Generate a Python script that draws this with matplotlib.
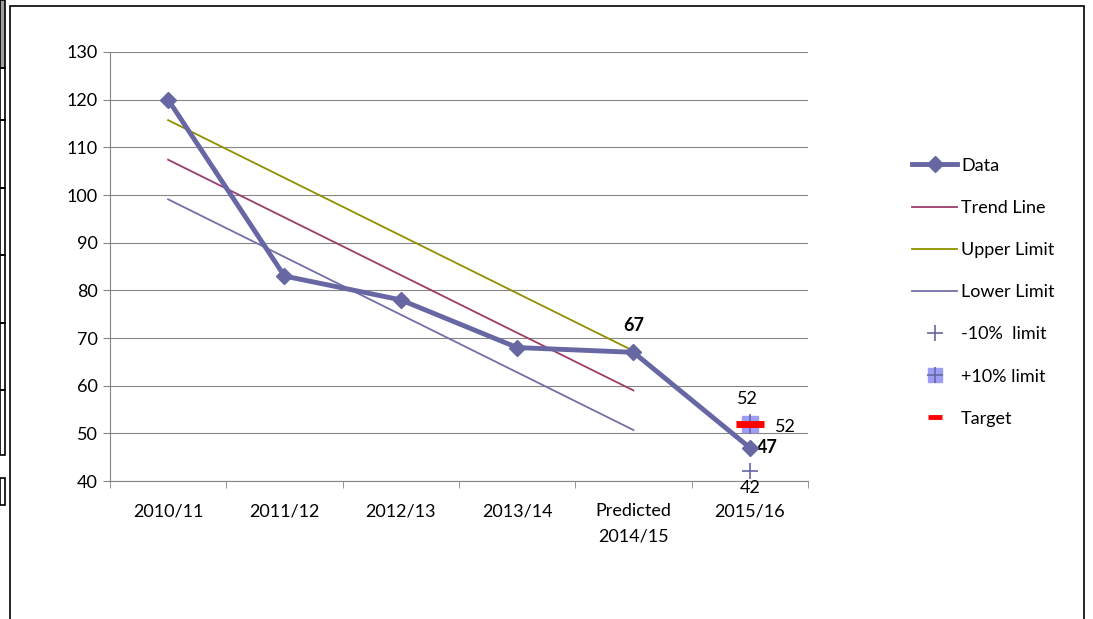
import matplotlib.pyplot as plt
from matplotlib.patches import Rectangle
from matplotlib.lines import Line2D

plt.rcParams['font.family'] = ['Lato', 'DejaVu Sans']

categories = ['2010/11', '2011/12', '2012/13', '2013/14', 'Predicted\n2014/15', '2015/16']
data = [120, 83, 78, 68, 67, 47]
trend = [107.4, 95.3, 83.2, 71.1, 59.0]
upper = [115.7, 103.6, 91.5, 79.4, 67.3]
lower = [99.1, 87.0, 74.9, 62.8, 50.7]
minus10 = 42
plus10 = 52
target = 52

c_data = '#6667a3'
c_trend = '#9c3c6a'
c_upper = '#8f9000'
c_lower = '#7270a6'

fig = plt.figure(figsize=(10.93, 6.19), dpi=100)
ax = fig.add_axes([0.1006, 0.2229, 0.6386, 0.6931])

x = list(range(len(categories)))
xt = x[:len(trend)]

ax.plot(xt, trend, color=c_trend, lw=1.3, zorder=2)
ax.plot(xt, upper, color=c_upper, lw=1.3, zorder=2)
ax.plot(xt, lower, color=c_lower, lw=1.3, zorder=2)
ax.plot(x, data, color=c_data, lw=3.5, marker='D', ms=8.5, zorder=4)

ax.plot([5], [plus10], marker='s', ms=11, color='#9d9df5', ls='none', zorder=3)
ax.plot([5], [plus10], marker='+', ms=14, color=c_data, mew=1.2, ls='none', zorder=3)
ax.plot([5], [minus10], marker='+', ms=12, color=c_data, mew=1.2, ls='none', zorder=5)
ax.plot([5], [target], marker='_', ms=20, color='#ff0000', mew=5, ls='none', zorder=6)

fs = 13
ax.annotate('67', (4, data[4]), xytext=(0, 13), textcoords='offset points',
            ha='center', va='bottom', fontsize=fs, fontweight='bold')
ax.annotate('47', (5, data[5]), xytext=(5, 0), textcoords='offset points',
            ha='left', va='center', fontsize=fs, fontweight='bold')
ax.annotate('52', (5, plus10), xytext=(-2, 12), textcoords='offset points',
            ha='center', va='bottom', fontsize=fs)
ax.annotate('52', (5, target), xytext=(18, -2), textcoords='offset points',
            ha='left', va='center', fontsize=fs)
ax.annotate('42', (5, minus10), xytext=(0, -6), textcoords='offset points',
            ha='center', va='top', fontsize=fs)

ax.set_xlim(-0.5, 5.5)
ax.set_ylim(40, 130)
ax.set_yticks(range(40, 131, 10))
ax.set_xticks(x)
ax.set_xticklabels(categories, fontsize=fs, linespacing=1.75)
ax.set_xticks([i + 0.5 for i in range(-1, 6)], minor=True)
ax.tick_params(axis='x', which='major', length=0, pad=16)
ax.tick_params(axis='x', which='minor', length=5, color='#868686', direction='out')
ax.tick_params(axis='y', length=5, color='#868686', labelsize=fs, pad=4)
ax.grid(axis='y', color='#868686', lw=0.8)
ax.set_axisbelow(True)
for s in ['top', 'right']:
    ax.spines[s].set_visible(False)
for s in ['left', 'bottom']:
    ax.spines[s].set_color('#868686')

handles = [
    Line2D([], [], color=c_data, lw=3.5, marker='D', ms=8),
    Line2D([], [], color=c_trend, lw=1.3),
    Line2D([], [], color=c_upper, lw=1.3),
    Line2D([], [], color=c_lower, lw=1.3),
    Line2D([], [], color=c_data, marker='+', ms=11, mew=1.2, ls='none'),
    (Line2D([], [], color='#9d9df5', marker='s', ms=10, ls='none'),
     Line2D([], [], color=c_data, marker='+', ms=11, mew=1.2, ls='none')),
    Line2D([], [], color='#ff0000', marker='_', ms=10, mew=3.5, ls='none'),
]
labels = ['Data', 'Trend Line', 'Upper Limit', 'Lower Limit', '-10%  limit', '+10% limit', 'Target']
fig.legend(handles, labels, loc='upper left', bbox_to_anchor=(0.828, 0.757),
           frameon=False, fontsize=fs, labelspacing=1.45, handlelength=2.5,
           handletextpad=0.2, borderaxespad=0)

# chart border and sheet lines
fig.add_artist(Rectangle((10 / 1093, -0.05), 1074 / 1093, 1.05 - 6 / 619,
                         transform=fig.transFigure, fill=False, ec='black', lw=1.2))
fig.add_artist(Rectangle((0, 1 - 68 / 619), 5 / 1093, 68 / 619,
                         transform=fig.transFigure, fc='#a0a0a0', ec='black', lw=1.2))
for y0, y1 in [(68, 120), (120, 188), (188, 255), (255, 323), (323, 390), (390, 455), (478, 505)]:
    fig.add_artist(Rectangle((0, 1 - y1 / 619), 5 / 1093, (y1 - y0) / 619,
                             transform=fig.transFigure, fill=False, ec='black', lw=1.2))

fig.savefig('out.png', dpi=100)
